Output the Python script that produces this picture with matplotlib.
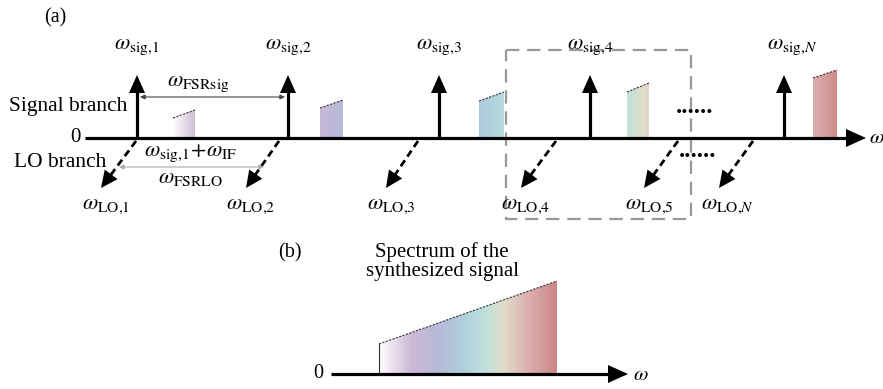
import numpy as np
import matplotlib
matplotlib.use("Agg")
import matplotlib.pyplot as plt
from matplotlib.colors import LinearSegmentedColormap
from matplotlib.patches import Polygon, Rectangle

plt.rcParams['font.family'] = ['Liberation Serif', 'DejaVu Serif']
plt.rcParams['mathtext.fontset'] = 'stix'

# ---------------- data (schematic positions, pixel units) ----------------
sig_x = [137, 288, 439, 590, 784]
sig_labels = [r'$\omega_{\rm sig{,}1}$', r'$\omega_{\rm sig{,}2}$', r'$\omega_{\rm sig{,}3}$',
              r'$\omega_{\rm sig{,}4}$', r'$\omega_{{\rm sig{,}}N}$']
lo_start = [136, 279, 418, 556, 678, 753]
lo_tip = [101, 246, 386, 521, 644, 719]
lo_labels = [r'$\omega_{\rm LO{,}1}$', r'$\omega_{\rm LO{,}2}$', r'$\omega_{\rm LO{,}3}$',
             r'$\omega_{\rm LO{,}4}$', r'$\omega_{\rm LO{,}5}$', r'$\omega_{{\rm LO{,}}N}$']
slice_left = [173, 320, 479, 627, 813]
slice_right = [195, 343, 504, 649, 837]
slice_top_left = [118, 108, 101, 92, 78]
slice_top_right = [110, 100, 92, 83, 70]
slice_grad = [(0.0, 0.17), (0.22, 0.36), (0.42, 0.55), (0.60, 0.73), (0.84, 0.98)]
spec_left, spec_right = 379, 557
spec_top_left, spec_top_right = 344, 281

stops = [(0.0, '#ffffff'), (0.18, '#cdb8d6'), (0.33, '#b7b9d8'), (0.48, '#afd1dd'),
         (0.60, '#c0e1db'), (0.70, '#e1ddc9'), (0.85, '#dbadad'), (1.0, '#cb8686')]
cmap = LinearSegmentedColormap.from_list('spec', stops)

axis_a_y = 138
axis_b_y = 374

W, H = 883, 389
fig = plt.figure(figsize=(W / 100, H / 100), dpi=100)
ax = fig.add_axes([0, 0, 1, 1])
ax.set_xlim(0, W)
ax.set_ylim(H, 0)
ax.axis('off')


def arrow(x0, y0, x1, y1, hl, hw, lw, ls='-', color='k', z=3):
    dx, dy = x1 - x0, y1 - y0
    L = np.hypot(dx, dy)
    ux, uy = dx / L, dy / L
    bx, by = x1 - ux * hl, y1 - uy * hl
    ax.plot([x0, bx + ux * 1], [y0, by + uy * 1], color=color, lw=lw, ls=ls,
            solid_capstyle='butt', dash_capstyle='butt', zorder=z)
    px, py = -uy, ux
    ax.fill([x1, bx + px * hw, bx - px * hw], [y1, by + py * hw, by - py * hw],
            color=color, lw=0, zorder=z)


def grad_poly(xl, xr, ytl, ytr, ybot, g0, g1, z=1):
    poly = Polygon([[xl, ybot], [xl, ytl], [xr, ytr], [xr, ybot]], closed=True,
                   facecolor='none', edgecolor='none')
    ax.add_patch(poly)
    g = np.linspace(g0, g1, 256)[None, :]
    im = ax.imshow(g, extent=(xl, xr, ybot, min(ytl, ytr)), cmap=cmap, vmin=0, vmax=1,
                   aspect='auto', interpolation='bilinear', zorder=z)
    im.set_clip_path(poly)
    ax.plot([xl, xr], [ytl, ytr], color='#333333', lw=0.8, ls=(0, (2, 1.2)), zorder=z + 1)


# ---------------- panel (a) ----------------
ax.text(55, 18, '(a)', fontsize=14.5, ha='center', va='center')

# main axis
arrow(85, axis_a_y, 866, axis_a_y, 20, 9, 2.3)
ax.text(81, axis_a_y - 1, '0', fontsize=15, ha='right', va='center')
ax.text(869, axis_a_y, r'$\omega$', fontsize=15, ha='left', va='center')
ax.text(9, 106, 'Signal branch', fontsize=15.5, ha='left', va='center')
ax.text(14, 162, 'LO branch', fontsize=15.5, ha='left', va='center')

# spectral slices
for xl, xr, tl, tr, (g0, g1) in zip(slice_left, slice_right, slice_top_left,
                                    slice_top_right, slice_grad):
    grad_poly(xl, xr, tl, tr, axis_a_y, g0, g1)

# signal arrows
for x, lab in zip(sig_x, sig_labels):
    arrow(x, axis_a_y, x, 75, 18, 8, 2.3)
    dx = 8 if 'N' in lab else 0
    ax.text(x + dx, 47, lab, fontsize=16, ha='center', va='center')

# LO arrows
for xs, xt, lab in zip(lo_start, lo_tip, lo_labels):
    arrow(xs, axis_a_y + 3, xt, 188, 17, 8, 2.0, ls=(0, (2.6, 1.6)))
    dx = 9 if 'N' in lab else 5
    ax.text(xt + dx, 206, lab, fontsize=16, ha='center', va='center')

# FSR arrows
ax.annotate('', xy=(140, 97), xytext=(285, 97),
            arrowprops=dict(arrowstyle='<|-|>', color='#444444', lw=0.8,
                            mutation_scale=7, shrinkA=0, shrinkB=0))
ax.text(198, 84, r'$\omega_{\rm FSRsig}$', fontsize=16, ha='center', va='center')
ax.annotate('', xy=(119, 167), xytext=(264, 167),
            arrowprops=dict(arrowstyle='<|-|>', color='#aaaaaa', lw=0.8,
                            mutation_scale=7, shrinkA=0, shrinkB=0))
ax.text(191, 153, r'$\omega_{\rm sig{,}1}\!+\!\omega_{\rm IF}$', fontsize=16,
        ha='center', va='center')
ax.text(191, 178, r'$\omega_{\rm FSRLO}$', fontsize=16, ha='center', va='center')

# dots
ax.text(695, 106, '......', fontsize=18, fontweight='bold', ha='center', va='center')
ax.text(698, 150, '......', fontsize=18, fontweight='bold', ha='center', va='center')

# dashed box
ax.add_patch(Rectangle((506, 50), 185, 169, fill=False, edgecolor='#999999', lw=1.6,
                       ls=(0, (6, 3.5)), zorder=2))

# ---------------- panel (b) ----------------
ax.text(290, 253, '(b)', fontsize=14.5, ha='center', va='center')
ax.text(442, 262, 'Spectrum of the\nsynthesized signal', fontsize=15, ha='center',
        va='center', linespacing=1.0)
grad_poly(spec_left, spec_right, spec_top_left, spec_top_right, axis_b_y, 0.0, 1.0)
ax.plot([spec_left, spec_left], [spec_top_left, axis_b_y], color='#333333', lw=0.8, zorder=2)
arrow(331, axis_b_y, 628, axis_b_y, 20, 9, 2.3)
ax.text(323, axis_b_y - 1, '0', fontsize=14.5, ha='right', va='center')
ax.text(633, axis_b_y + 1, r'$\omega$', fontsize=15, ha='left', va='center')

fig.savefig('out.png', dpi=100)
